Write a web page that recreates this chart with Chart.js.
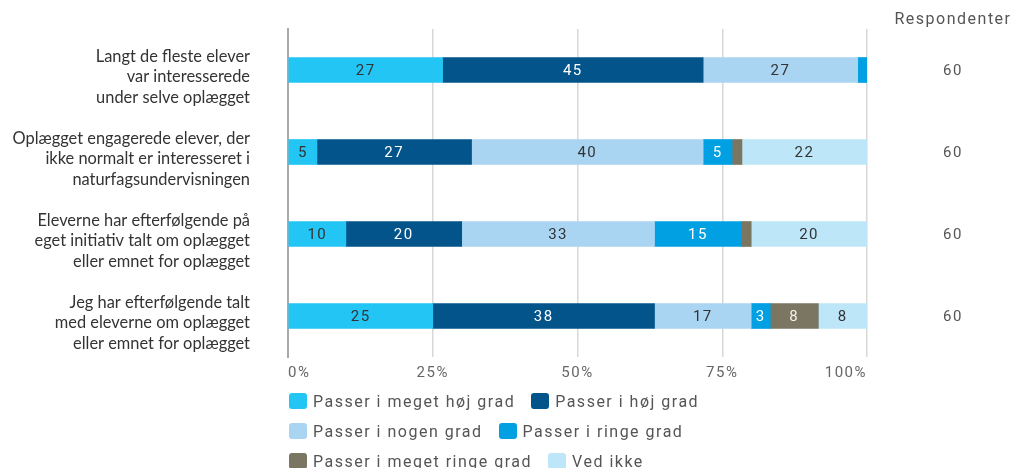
<!DOCTYPE html>
<html lang="da">
<head>
<meta charset="utf-8">
<title>Oplæg og elevernes interesse</title>
<script src="https://cdn.jsdelivr.net/npm/chart.js@4/dist/chart.umd.min.js"></script>
<style>
  body { margin: 0; background: #fff; }
  #wrap { position: relative; width: 1015px; height: 468px; }
  #legend {
    position: absolute; left: 289px; top: 386px;
    font-family: Roboto, sans-serif; font-size: 16px; color: #555; letter-spacing: 1.5px;
  }
  .row { height: 30px; display: flex; align-items: center; }
  .item { display: flex; align-items: center; margin-right: 16px; white-space: nowrap; }
  .box { width: 18px; height: 16px; border-radius: 3px; margin-right: 6px; }
</style>
</head>
<body>
<div id="wrap">
  <canvas id="chart" width="1015" height="390"></canvas>
  <div id="legend"></div>
</div>
<script>
const categories = [
  ['Langt de fleste elever', 'var interesserede', 'under selve oplægget'],
  ['Oplægget engagerede elever, der', 'ikke normalt er interesseret i', 'naturfagsundervisningen'],
  ['Eleverne har efterfølgende på', 'eget initiativ talt om oplægget', 'eller emnet for oplægget'],
  ['Jeg har efterfølgende talt', 'med eleverne om oplægget', 'eller emnet for oplægget']
];
const respondents = [60, 60, 60, 60];
const xTicks = [0, 25, 50, 75, 100];

// percent of respondents per answer
const megetHoejGrad = [26.7, 5, 10, 25];
const hoejGrad = [45, 26.7, 20, 38.3];
const nogenGrad = [26.7, 40, 33.3, 16.7];
const ringeGrad = [1.6, 5, 15, 3.3];
const megetRingeGrad = [0, 1.7, 1.7, 8.3];
const vedIkke = [0, 21.6, 20, 8.4];

const seriesNames = ['Passer i meget høj grad', 'Passer i høj grad', 'Passer i nogen grad',
  'Passer i ringe grad', 'Passer i meget ringe grad', 'Ved ikke'];
const seriesData = [megetHoejGrad, hoejGrad, nogenGrad, ringeGrad, megetRingeGrad, vedIkke];
const seriesColors = ['#22c5f3', '#02548a', '#a9d4f2', '#00a0e2', '#7a7662', '#bde6f9'];
const textColors = ['#333', '#fff', '#333', '#fff', '#f4f1e8', '#333'];

const barLabels = {
  id: 'barLabels',
  beforeDraw(chart) { chart.ctx.letterSpacing = '0px'; },
  afterDatasetsDraw(chart) {
    const ctx = chart.ctx;
    ctx.save();
    ctx.letterSpacing = '1.5px';
    ctx.font = '15px Roboto';
    ctx.textAlign = 'center';
    ctx.textBaseline = 'middle';
    chart.data.datasets.forEach((ds, d) => {
      chart.getDatasetMeta(d).data.forEach((bar, i) => {
        const v = ds.data[i];
        if (v < 2.5) return;
        ctx.fillStyle = textColors[d];
        ctx.fillText(Math.round(v), (bar.x + bar.base) / 2, bar.y + 1);
      });
    });
    // respondent column on the right
    ctx.fillStyle = '#555';
    const y = chart.scales.y;
    respondents.forEach((n, i) => ctx.fillText(n, 953, y.getPixelForValue(i) + 1));
    ctx.font = '16px Roboto';
    ctx.fillText('Respondenter', 953, 20);
    ctx.restore();
    ctx.letterSpacing = '1.5px'; // x tick labels come after the bars
  },
  afterDraw(chart) { chart.ctx.letterSpacing = '0px'; }
};

const chart = new Chart(document.getElementById('chart'), {
  type: 'bar',
  data: {
    labels: categories,
    datasets: seriesNames.map((name, i) => ({
      label: name,
      data: seriesData[i],
      backgroundColor: seriesColors[i],
      borderWidth: 0,
      barThickness: 25
    }))
  },
  options: {
    indexAxis: 'y',
    responsive: false,
    animation: false,
    devicePixelRatio: 1,
    layout: { padding: { top: 29, right: 148, bottom: 0, left: 0 } },
    plugins: { legend: { display: false }, tooltip: { enabled: false } },
    scales: {
      x: {
        stacked: true,
        min: 0,
        max: 100,
        afterBuildTicks(s) { s.ticks = xTicks.map(v => ({ value: v })); },
        afterFit(s) { s.height = 33; s.paddingLeft = 0; s.paddingRight = 0; },
        grid: { color: '#d8d8d8', lineWidth: 1.5, drawTicks: false },
        border: { display: false },
        ticks: {
          callback: v => v + '%',
          align: 'inner',
          color: '#666',
          font: { family: 'Roboto', size: 15 },
          padding: 7,
          z: 1
        }
      },
      y: {
        stacked: true,
        afterFit(s) { s.width = 288; s.paddingTop = 0; s.paddingBottom = 0; },
        grid: { display: false, drawTicks: false },
        border: { display: true, color: '#aaa', width: 2 },
        ticks: {
          color: '#333',
          font: { family: 'Lato', size: 16.4, lineHeight: 1.24 },
          padding: 38,
          labelOffset: 7
        }
      }
    }
  },
  plugins: [barLabels]
});

// legend, two entries per row
const legend = document.getElementById('legend');
for (let r = 0; r < seriesNames.length; r += 2) {
  const row = document.createElement('div');
  row.className = 'row';
  for (let i = r; i < r + 2; i++) {
    const item = document.createElement('div');
    item.className = 'item';
    const box = document.createElement('span');
    box.className = 'box';
    box.style.background = seriesColors[i];
    item.appendChild(box);
    item.appendChild(document.createTextNode(seriesNames[i]));
    row.appendChild(item);
  }
  legend.appendChild(row);
}
</script>
</body>
</html>
